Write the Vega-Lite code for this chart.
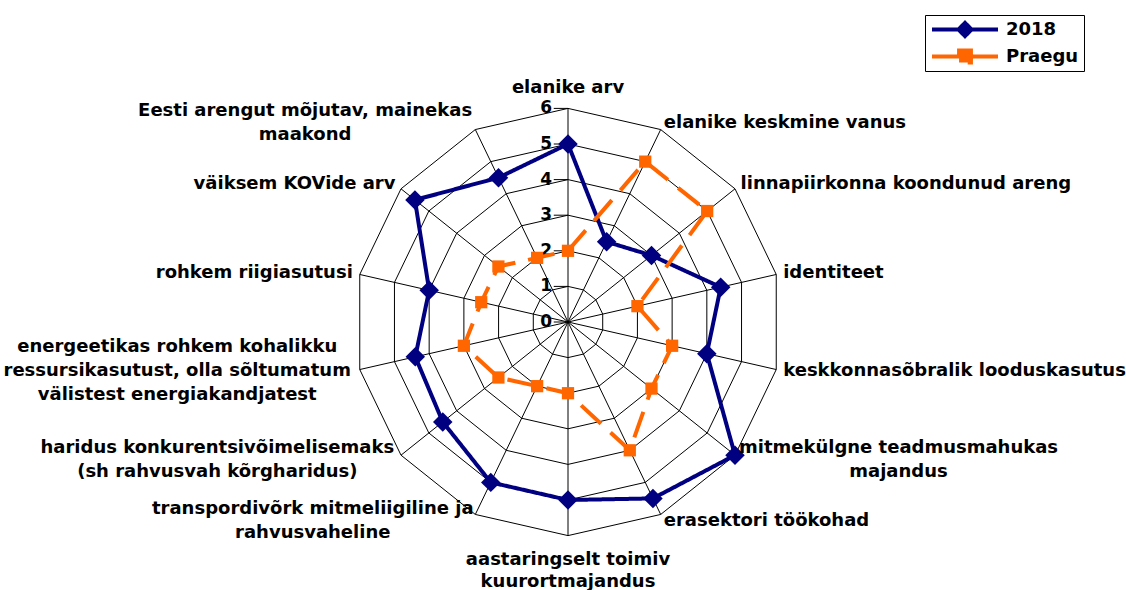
{
  "$schema": "https://vega.github.io/schema/vega-lite/v6.json",
  "width": 1126,
  "height": 590,
  "padding": 0,
  "autosize": {"type": "none"},
  "background": "white",
  "config": {"view": {"stroke": null}, "font": "DejaVu Sans"},
  "datasets": {
    "axes": [
      {"k": 0, "label": "elanike arv"},
      {"k": 1, "label": "elanike keskmine vanus"},
      {"k": 2, "label": "linnapiirkonna koondunud areng"},
      {"k": 3, "label": "identiteet"},
      {"k": 4, "label": "keskkonnasõbralik looduskasutus"},
      {"k": 5, "label": "mitmekülgne teadmusmahukas\nmajandus"},
      {"k": 6, "label": "erasektori töökohad"},
      {"k": 7, "label": "aastaringselt toimiv\nkuurortmajandus"},
      {"k": 8, "label": "transpordivõrk mitmeliigiline ja\nrahvusvaheline"},
      {"k": 9, "label": "haridus konkurentsivõimelisemaks\n(sh rahvusvah kõrgharidus)"},
      {"k": 10, "label": "energeetikas rohkem kohalikku\nressursikasutust, olla sõltumatum\nvälistest energiakandjatest"},
      {"k": 11, "label": "rohkem riigiasutusi"},
      {"k": 12, "label": "väiksem KOVide arv"},
      {"k": 13, "label": "Eesti arengut mõjutav, mainekas\nmaakond"}
    ],
    "levels": [
      {"level": 0}, {"level": 1}, {"level": 2}, {"level": 3}, {"level": 4}, {"level": 5}, {"level": 6}
    ],
    "scores": [
      {"k": 0, "series": "2018", "value": 5},
      {"k": 1, "series": "2018", "value": 2.5},
      {"k": 2, "series": "2018", "value": 3},
      {"k": 3, "series": "2018", "value": 4.4},
      {"k": 4, "series": "2018", "value": 4},
      {"k": 5, "series": "2018", "value": 6},
      {"k": 6, "series": "2018", "value": 5.5},
      {"k": 7, "series": "2018", "value": 5},
      {"k": 8, "series": "2018", "value": 5},
      {"k": 9, "series": "2018", "value": 4.5},
      {"k": 10, "series": "2018", "value": 4.4},
      {"k": 11, "series": "2018", "value": 4},
      {"k": 12, "series": "2018", "value": 5.5},
      {"k": 13, "series": "2018", "value": 4.5},
      {"k": 0, "series": "Praegu", "value": 2},
      {"k": 1, "series": "Praegu", "value": 5},
      {"k": 2, "series": "Praegu", "value": 5},
      {"k": 3, "series": "Praegu", "value": 2},
      {"k": 4, "series": "Praegu", "value": 3},
      {"k": 5, "series": "Praegu", "value": 3},
      {"k": 6, "series": "Praegu", "value": 4},
      {"k": 7, "series": "Praegu", "value": 2},
      {"k": 8, "series": "Praegu", "value": 2},
      {"k": 9, "series": "Praegu", "value": 2.5},
      {"k": 10, "series": "Praegu", "value": 3},
      {"k": 11, "series": "Praegu", "value": 2.5},
      {"k": 12, "series": "Praegu", "value": 2.5},
      {"k": 13, "series": "Praegu", "value": 2}
    ]
  },
  "layer": [
    {
      "data": {"name": "levels"},
      "transform": [
        {"filter": "datum.level > 0"},
        {"calculate": "[0,1,2,3,4,5,6,7,8,9,10,11,12,13]", "as": "k"},
        {"flatten": ["k"]},
        {"calculate": "datum.k * 2 * PI / 14", "as": "ang"},
        {"calculate": "datum.level * sin(datum.ang)", "as": "px"},
        {"calculate": "datum.level * cos(datum.ang)", "as": "py"}
      ],
      "mark": {"type": "line", "interpolate": "linear-closed", "stroke": "black", "strokeWidth": 1},
      "encoding": {
        "x": {"field": "px", "type": "quantitative", "scale": {"domain": [-15.955, 15.674], "nice": false, "zero": false}, "axis": null},
        "y": {"field": "py", "type": "quantitative", "scale": {"domain": [-7.528, 9.045], "nice": false, "zero": false}, "axis": null},
        "detail": {"field": "level", "type": "nominal"},
        "order": {"field": "k", "type": "quantitative"}
      }
    },
    {
      "data": {"name": "axes"},
      "transform": [
        {"calculate": "datum.k * 2 * PI / 14", "as": "ang"},
        {"calculate": "6 * sin(datum.ang)", "as": "px"},
        {"calculate": "6 * cos(datum.ang)", "as": "py"}
      ],
      "mark": {"type": "rule", "stroke": "black", "strokeWidth": 1},
      "encoding": {
        "x": {"field": "px", "type": "quantitative", "axis": null},
        "y": {"field": "py", "type": "quantitative", "axis": null},
        "x2": {"datum": 0},
        "y2": {"datum": 0}
      }
    },
    {
      "data": {"name": "levels"},
      "mark": {"type": "rule", "stroke": "black", "strokeWidth": 1},
      "encoding": {
        "x": {"datum": -0.4, "type": "quantitative", "axis": null},
        "x2": {"datum": 0},
        "y": {"field": "level", "type": "quantitative", "axis": null}
      }
    },
    {
      "data": {"name": "levels"},
      "mark": {"type": "text", "align": "right", "baseline": "middle", "dx": -1, "font": "DejaVu Sans", "fontWeight": "bold", "fontSize": 17, "color": "black"},
      "encoding": {
        "x": {"datum": -0.42, "type": "quantitative", "axis": null},
        "y": {"field": "level", "type": "quantitative", "axis": null},
        "text": {"field": "level", "type": "nominal"}
      }
    },
    {
      "data": {"name": "scores"},
      "transform": [
        {"calculate": "datum.k * 2 * PI / 14", "as": "ang"},
        {"calculate": "datum.value * sin(datum.ang)", "as": "px"},
        {"calculate": "datum.value * cos(datum.ang)", "as": "py"}
      ],
      "mark": {"type": "line", "interpolate": "linear-closed", "strokeWidth": 4},
      "encoding": {
        "x": {"field": "px", "type": "quantitative", "axis": null},
        "y": {"field": "py", "type": "quantitative", "axis": null},
        "order": {"field": "k", "type": "quantitative"},
        "color": {
          "field": "series", "type": "nominal",
          "scale": {"domain": ["2018", "Praegu"], "range": ["#000080", "#FF6600"]},
          "legend": {
            "orient": "none", "legendX": 925, "legendY": 15, "title": null,
            "padding": 5, "strokeColor": "black", "fillColor": "white",
            "labelFont": "DejaVu Sans", "labelFontWeight": "bold", "labelFontSize": 18, "labelColor": "black",
            "symbolSize": 4356, "clipHeight": 19, "rowPadding": 8, "labelOffset": 6,
            "encode": {
              "symbols": {
                "update": {
                  "shape": {"signal": "datum.value === '2018' ? 'M-1,0H1M0,-0.2L0.2,0L0,0.2L-0.2,0Z' : 'M-1,0H1M-0.18,-0.18H0.18V0.18H-0.18Z'"},
                  "fill": {"signal": "datum.value === '2018' ? '#000080' : '#FF6600'"},
                  "strokeWidth": {"value": 4},
                  "size": {"value": 4356},
                  "opacity": {"value": 1}
                }
              }
            }
          }
        },
        "strokeDash": {
          "field": "series", "type": "nominal",
          "scale": {"domain": ["2018", "Praegu"], "range": [[1, 0], [27, 13]]}
        }
      }
    },
    {
      "data": {"name": "scores"},
      "transform": [
        {"filter": "datum.series == '2018'"},
        {"calculate": "datum.k * 2 * PI / 14", "as": "ang"},
        {"calculate": "datum.value * sin(datum.ang)", "as": "px"},
        {"calculate": "datum.value * cos(datum.ang)", "as": "py"}
      ],
      "mark": {"type": "point", "shape": "diamond", "filled": true, "fill": "#000080", "opacity": 1, "strokeWidth": 0, "size": 380},
      "encoding": {
        "x": {"field": "px", "type": "quantitative", "axis": null},
        "y": {"field": "py", "type": "quantitative", "axis": null}
      }
    },
    {
      "data": {"name": "scores"},
      "transform": [
        {"filter": "datum.series == 'Praegu'"},
        {"calculate": "datum.k * 2 * PI / 14", "as": "ang"},
        {"calculate": "datum.value * sin(datum.ang)", "as": "px"},
        {"calculate": "datum.value * cos(datum.ang)", "as": "py"}
      ],
      "mark": {"type": "point", "shape": "square", "filled": true, "fill": "#FF6600", "opacity": 1, "strokeWidth": 0, "size": 150},
      "encoding": {
        "x": {"field": "px", "type": "quantitative", "axis": null},
        "y": {"field": "py", "type": "quantitative", "axis": null}
      }
    },
    {
      "data": {"name": "axes"},
      "transform": [
        {"filter": "datum.k > 0 && datum.k < 7 && indexof(datum.label, '\\n') < 0"},
        {"calculate": "datum.k * 2 * PI / 14", "as": "ang"},
        {"calculate": "6.2 * sin(datum.ang)", "as": "px"},
        {"calculate": "6.2 * cos(datum.ang)", "as": "py"}
      ],
      "mark": {"type": "text", "align": "left", "baseline": "middle", "font": "DejaVu Sans", "fontWeight": "bold", "fontSize": 18, "color": "black"},
      "encoding": {
        "x": {"field": "px", "type": "quantitative", "axis": null},
        "y": {"field": "py", "type": "quantitative", "axis": null},
        "text": {"field": "label", "type": "nominal"}
      }
    },
    {
      "data": {"name": "axes"},
      "transform": [
        {"filter": "datum.k > 7 && indexof(datum.label, '\\n') < 0"},
        {"calculate": "datum.k * 2 * PI / 14", "as": "ang"},
        {"calculate": "6.2 * sin(datum.ang)", "as": "px"},
        {"calculate": "6.2 * cos(datum.ang)", "as": "py"}
      ],
      "mark": {"type": "text", "align": "right", "baseline": "middle", "font": "DejaVu Sans", "fontWeight": "bold", "fontSize": 18, "color": "black"},
      "encoding": {
        "x": {"field": "px", "type": "quantitative", "axis": null},
        "y": {"field": "py", "type": "quantitative", "axis": null},
        "text": {"field": "label", "type": "nominal"}
      }
    },
    {
      "data": {"name": "axes"},
      "transform": [
        {"filter": "datum.k != 0 && datum.k != 7 && indexof(datum.label, '\\n') >= 0"},
        {"calculate": "datum.k * 2 * PI / 14", "as": "ang"},
        {"calculate": "split(datum.label, '\\n')", "as": "lines"},
        {"calculate": "length(datum.lines)", "as": "nl"},
        {"calculate": "datum.lines[0]", "as": "s0"},
        {"calculate": "datum.lines[1] || ''", "as": "s1"},
        {"calculate": "datum.lines[2] || ''", "as": "s2"},
        {"calculate": "18 * (0.68 * length(datum.s0) - 0.33 * length(replace(datum.s0, regexp('[^ilj ,.]', 'g'), '')) - 0.21 * length(replace(datum.s0, regexp('[^ftr()]', 'g'), '')) + 0.32 * length(replace(datum.s0, regexp('[^mw]', 'g'), '')))", "as": "w0"},
        {"calculate": "18 * (0.68 * length(datum.s1) - 0.33 * length(replace(datum.s1, regexp('[^ilj ,.]', 'g'), '')) - 0.21 * length(replace(datum.s1, regexp('[^ftr()]', 'g'), '')) + 0.32 * length(replace(datum.s1, regexp('[^mw]', 'g'), '')))", "as": "w1"},
        {"calculate": "18 * (0.68 * length(datum.s2) - 0.33 * length(replace(datum.s2, regexp('[^ilj ,.]', 'g'), '')) - 0.21 * length(replace(datum.s2, regexp('[^ftr()]', 'g'), '')) + 0.32 * length(replace(datum.s2, regexp('[^mw]', 'g'), '')))", "as": "w2"},
        {"calculate": "max(datum.w0, datum.w1, datum.w2) / 2 / 35.6", "as": "hw"},
        {"calculate": "6.2 * sin(datum.ang) + (sin(datum.ang) > 0 ? 1 : -1) * datum.hw", "as": "px"},
        {"calculate": "6.2 * cos(datum.ang) + (datum.nl - 1) * 12 / 35.6", "as": "py"}
      ],
      "mark": {"type": "text", "align": "center", "baseline": "middle", "lineBreak": "\n", "lineHeight": 24, "font": "DejaVu Sans", "fontWeight": "bold", "fontSize": 18, "color": "black"},
      "encoding": {
        "x": {"field": "px", "type": "quantitative", "axis": null},
        "y": {"field": "py", "type": "quantitative", "axis": null},
        "text": {"field": "label", "type": "nominal"}
      }
    },
    {
      "data": {"name": "axes"},
      "transform": [
        {"filter": "datum.k == 0"},
        {"calculate": "0", "as": "px"},
        {"calculate": "6.42", "as": "py"}
      ],
      "mark": {"type": "text", "align": "center", "baseline": "alphabetic", "lineBreak": "\n", "lineHeight": 24, "font": "DejaVu Sans", "fontWeight": "bold", "fontSize": 18, "color": "black"},
      "encoding": {
        "x": {"field": "px", "type": "quantitative", "axis": null},
        "y": {"field": "py", "type": "quantitative", "axis": null},
        "text": {"field": "label", "type": "nominal"}
      }
    },
    {
      "data": {"name": "axes"},
      "transform": [
        {"filter": "datum.k == 7"},
        {"calculate": "0", "as": "px"},
        {"calculate": "-6.44", "as": "py"}
      ],
      "mark": {"type": "text", "align": "center", "baseline": "top", "lineBreak": "\n", "lineHeight": 22, "font": "DejaVu Sans", "fontWeight": "bold", "fontSize": 18, "color": "black"},
      "encoding": {
        "x": {"field": "px", "type": "quantitative", "axis": null},
        "y": {"field": "py", "type": "quantitative", "axis": null},
        "text": {"field": "label", "type": "nominal"}
      }
    }
  ]
}
